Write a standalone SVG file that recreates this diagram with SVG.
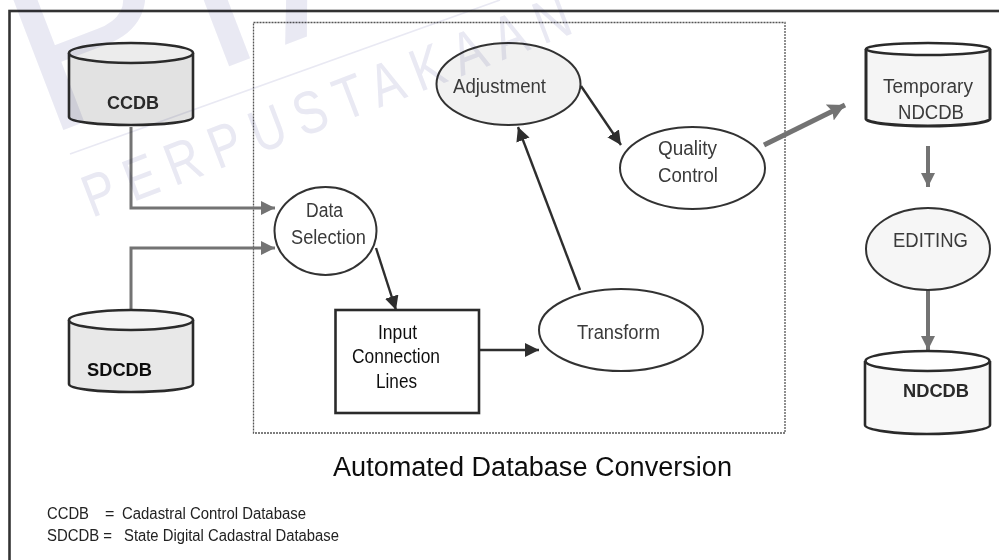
<svg xmlns="http://www.w3.org/2000/svg" width="999" height="560" viewBox="0 0 999 560">
<style>
text{font-family:"Liberation Sans",Arial,sans-serif;text-anchor:middle}
.wm{fill:#e9e9f3;text-anchor:start}
.lab{font-size:20px;fill:#3a3a3a}
.db{font-size:19px;font-weight:bold;fill:#2a2a2a}
.leg{font-size:16px;fill:#222;text-anchor:start}
.el{stroke:#333;stroke-width:2}
.cyl{stroke:#2c2c2c;stroke-width:2.6}
.k{fill:none;stroke:#2e2e2e;stroke-width:2.4}
.g{fill:none;stroke:#737373;stroke-width:3}
</style>
<defs>
<filter id="scan" x="0" y="0" width="100%" height="100%"><feGaussianBlur stdDeviation="0.4"/></filter>
<marker id="ak" markerUnits="userSpaceOnUse" markerWidth="16" markerHeight="16" refX="14" refY="7" orient="auto"><path d="M0 0L14 7L0 14Z" fill="#2e2e2e"/></marker>
<marker id="ag" markerUnits="userSpaceOnUse" markerWidth="16" markerHeight="16" refX="14" refY="7" orient="auto"><path d="M0 0L14 7L0 14Z" fill="#737373"/></marker>
<marker id="agb" markerUnits="userSpaceOnUse" markerWidth="20" markerHeight="22" refX="17" refY="9" orient="auto"><path d="M0 0L17 9L0 18L3 9Z" fill="#737373"/></marker>
</defs>
<rect width="999" height="560" fill="#fff"/>
<g filter="url(#scan)">
<rect x="9.500" y="11" width="1000" height="560" fill="none" stroke="#333" stroke-width="2.600"/>
<rect id="boundary" x="253.500" y="22.500" width="531.500" height="410.500" fill="none" stroke="#555" stroke-width="1.300" stroke-dasharray="2 1"/>
<g id="connectors">
<path class="g" d="M131 127V208H275" marker-end="url(#ag)"/>
<path class="g" d="M131 310V248H275" marker-end="url(#ag)"/>
<path class="k" d="M376 248L396 310" marker-end="url(#ak)"/>
<path class="k" d="M479 350H539" marker-end="url(#ak)"/>
<path class="k" d="M580 290L518 127" marker-end="url(#ak)"/>
<path class="k" d="M581 86L621 145" marker-end="url(#ak)"/>
<path class="g" style="stroke-width:5" d="M764 145L845 105" marker-end="url(#agb)"/>
<path class="g" style="stroke-width:4" d="M928 146V187" marker-end="url(#ag)"/>
<path class="g" style="stroke-width:4" d="M928 290V350" marker-end="url(#ag)"/>
</g>
<g id="ccdb">
<path class="cyl" d="M69 53V117C69 122 100 125 131 125S193 122 193 117V53" fill="#e2e2e2"/>
<ellipse class="cyl" cx="131" cy="53" rx="62" ry="10" fill="#ececec"/>
<text class="db" x="133" y="109" textLength="52" lengthAdjust="spacingAndGlyphs">CCDB</text>
</g>
<g id="sdcdb">
<path class="cyl" d="M69 320V384C69 389 100 392 131 392S193 389 193 384V320" fill="#e8e8e8"/>
<ellipse class="cyl" cx="131" cy="320" rx="62" ry="10" fill="#f4f4f4"/>
<text class="db" x="119.500" y="376" style="fill:#111" textLength="65" lengthAdjust="spacingAndGlyphs">SDCDB</text>
</g>
<g id="temporary-ndcdb">
<path class="cyl" style="stroke-width:3" d="M866 49V119C866 123 897 126 928 126S990 123 990 119V49" fill="#f5f5f5"/>
<ellipse class="cyl" cx="928" cy="49" rx="62" ry="6" fill="#fff"/>
<text class="lab" x="928" y="93" textLength="90" lengthAdjust="spacingAndGlyphs">Temporary</text>
<text class="lab" x="931" y="119" textLength="66" lengthAdjust="spacingAndGlyphs">NDCDB</text>
</g>
<g id="ndcdb">
<path class="cyl" d="M865 361V425C865 430 896 434 927 434S990 430 990 425V361" fill="#f8f8f8"/>
<ellipse class="cyl" cx="927.500" cy="361" rx="62" ry="10" fill="#fff"/>
<text class="db" x="936" y="397" textLength="66" lengthAdjust="spacingAndGlyphs">NDCDB</text>
</g>
<g id="adjustment">
<ellipse class="el" cx="508.500" cy="84" rx="72" ry="41" fill="#f1f1f1"/>
<text class="lab" x="499.500" y="93" textLength="93" lengthAdjust="spacingAndGlyphs">Adjustment</text>
</g>
<g id="quality-control">
<ellipse class="el" cx="692.500" cy="168" rx="72.500" ry="41" fill="#fff"/>
<text class="lab" x="687.500" y="155" textLength="59" lengthAdjust="spacingAndGlyphs">Quality</text>
<text class="lab" x="688" y="182" textLength="60" lengthAdjust="spacingAndGlyphs">Control</text>
</g>
<g id="data-selection">
<ellipse class="el" cx="325.500" cy="231" rx="51" ry="44" fill="#fff"/>
<text class="lab" x="324.500" y="217" textLength="37" lengthAdjust="spacingAndGlyphs">Data</text>
<text class="lab" x="328.500" y="244" textLength="75" lengthAdjust="spacingAndGlyphs">Selection</text>
</g>
<g id="input-connection-lines">
<rect x="335.500" y="310" width="143.500" height="103" fill="#fff" stroke="#2c2c2c" stroke-width="2.600"/>
<text class="lab" x="397.500" y="339" style="fill:#111" textLength="39" lengthAdjust="spacingAndGlyphs">Input</text>
<text class="lab" x="396" y="363" style="fill:#111" textLength="88" lengthAdjust="spacingAndGlyphs">Connection</text>
<text class="lab" x="396.500" y="388" style="fill:#111" textLength="41" lengthAdjust="spacingAndGlyphs">Lines</text>
</g>
<g id="transform">
<ellipse class="el" cx="621" cy="330" rx="82" ry="41" fill="#fff"/>
<text class="lab" x="618.500" y="339" textLength="83" lengthAdjust="spacingAndGlyphs">Transform</text>
</g>
<g id="editing">
<ellipse class="el" cx="928" cy="249" rx="62" ry="41" fill="#f6f6f6"/>
<text class="lab" x="930.500" y="247" textLength="75" lengthAdjust="spacingAndGlyphs">EDITING</text>
</g>
<text x="532.500" y="476" font-size="27" fill="#111" textLength="399" lengthAdjust="spacingAndGlyphs">Automated Database Conversion</text>
<g id="legend">
<text class="leg" x="47" y="519" textLength="42" lengthAdjust="spacingAndGlyphs">CCDB</text>
<text class="leg" x="105" y="519">=</text>
<text class="leg" x="122" y="519" textLength="184" lengthAdjust="spacingAndGlyphs">Cadastral Control Database</text>
<text class="leg" x="47" y="541" textLength="65" lengthAdjust="spacingAndGlyphs">SDCDB =</text>
<text class="leg" x="124" y="541" textLength="215" lengthAdjust="spacingAndGlyphs">State Digital Cadastral Database</text>
</g>
<g id="watermark" style="mix-blend-mode:multiply">
<text class="wm" font-size="60" letter-spacing="15" transform="translate(92 218) rotate(-21) scale(.8 1)">PERPUSTAKAAN</text>
<text class="wm" font-size="240" letter-spacing="15" transform="translate(45 137) rotate(-21)">PIA</text>
<path d="M70 154L500 0" stroke="#e9e9f3" stroke-width="1.600" fill="none"/>
</g>
</g>
</svg>
